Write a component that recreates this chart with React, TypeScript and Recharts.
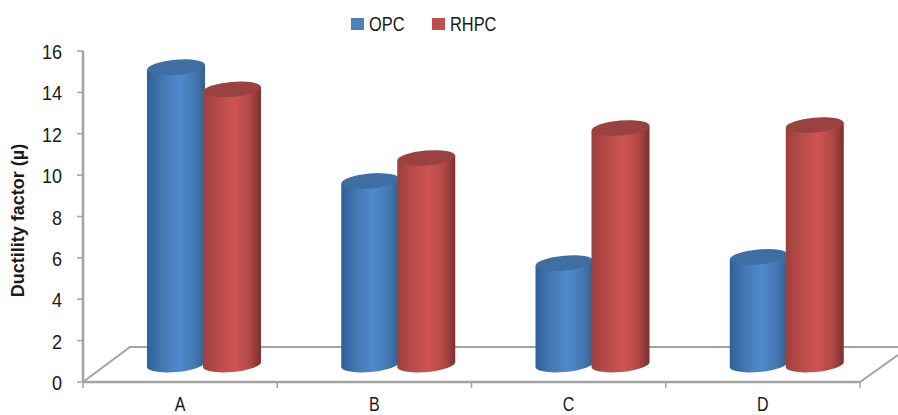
import { BarChart, Bar, XAxis, YAxis, Legend, Label, usePlotArea } from 'recharts'

const categories = ['A', 'B', 'C', 'D']
const opcValues = [14.37, 8.87, 4.9, 5.2]
const rhpcValues = [13.3, 9.98, 11.43, 11.57]
const yTicks = [0, 2, 4, 6, 8, 10, 12, 14, 16]

const data = categories.map((name, i) => ({
  name,
  OPC: opcValues[i],
  RHPC: rhpcValues[i],
}))

const AXIS = '#a3a3a3'
const TEXT = '#1a1a1a'
const FONT = '"Liberation Sans", sans-serif'

// the fake 3D offset of the bars from the front axis
const SHIFT_X = 24
const SHIFT_Y = 17.5

function Cylinder(props: any) {
  const { x, y, width, height, gradient, top } = props
  const rx = width / 2
  const ry = 7.5
  const dy = 2.5
  const left = x + SHIFT_X
  const right = left + width
  const yTop = y - SHIFT_Y
  const yBot = y + height - SHIFT_Y
  const body = `M${left},${yTop + dy} L${left},${yBot + dy} A${rx},${ry} -5 0 0 ${right},${yBot - dy} L${right},${yTop - dy} Z`
  return (
    <g>
      <path d={body} fill={`url(#${gradient})`} />
      <ellipse
        cx={left + rx}
        cy={yTop}
        rx={rx}
        ry={ry}
        fill={top}
        transform={`rotate(-5 ${left + rx} ${yTop})`}
      />
    </g>
  )
}

function Floor() {
  const plot = usePlotArea()
  if (!plot) return null
  const { x, y, width, height } = plot
  const bottom = y + height
  const right = x + width
  const band = width / categories.length
  const boundaries = [0, 1, 2, 3, 4].map((i) => x + i * band)
  return (
    <g stroke={AXIS} fill="none">
      <path strokeWidth={2} d={`M${x},${bottom} L${x + 47},${bottom - 35} L898,${bottom - 35}`} />
      <path strokeWidth={2} d={`M${right},${bottom} L898,${bottom - 27}`} />
      <path strokeWidth={2.5} d={`M${x},${bottom} L${right},${bottom}`} />
      {boundaries.map((b) => (
        <path key={b} strokeWidth={1.5} d={`M${b},${bottom} L${b},${bottom + 6}`} />
      ))}
    </g>
  )
}

function Gradients() {
  return (
    <defs>
      <linearGradient id="opcGrad" x1="0" y1="0" x2="1" y2="0">
        <stop offset="0%" stopColor="#2f5f96" />
        <stop offset="25%" stopColor="#4377b3" />
        <stop offset="55%" stopColor="#5089cf" />
        <stop offset="80%" stopColor="#4679b4" />
        <stop offset="100%" stopColor="#34618f" />
      </linearGradient>
      <linearGradient id="rhpcGrad" x1="0" y1="0" x2="1" y2="0">
        <stop offset="0%" stopColor="#9b403e" />
        <stop offset="25%" stopColor="#b84b48" />
        <stop offset="55%" stopColor="#ce5451" />
        <stop offset="80%" stopColor="#b24846" />
        <stop offset="100%" stopColor="#7d302e" />
      </linearGradient>
    </defs>
  )
}

// the reference text is a narrow face, so squeeze the regular one
function NarrowTick(props: any) {
  const { x, y, payload, anchor, squeeze, size, dy } = props
  return (
    <text
      transform={`translate(${x} ${y + dy}) scale(${squeeze} 1)`}
      textAnchor={anchor}
      fill={TEXT}
      fontFamily={FONT}
      fontSize={size}
    >
      {payload.value}
    </text>
  )
}

function LegendContent() {
  const items = [
    { name: 'OPC', color: '#4f81bd', width: 81 },
    { name: 'RHPC', color: '#c0504d', width: 80 },
  ]
  return (
    <div style={{ display: 'flex', paddingLeft: 351, height: 24, alignItems: 'center' }}>
      {items.map((it) => (
        <div key={it.name} style={{ display: 'flex', alignItems: 'center', width: it.width }}>
          <span style={{ width: 12.5, height: 12, background: it.color, marginRight: 5 }} />
          <span
            style={{
              fontFamily: FONT,
              fontSize: 21,
              color: TEXT,
              display: 'inline-block',
              transform: 'scaleX(0.78)',
              transformOrigin: 'left center',
            }}
          >
            {it.name}
          </span>
        </div>
      ))}
    </div>
  )
}

export default function App() {
  return (
    <div style={{ position: 'absolute', left: 0, top: 0, width: 898, height: 415 }}>
      <BarChart
        width={898}
        height={415}
        data={data}
        margin={{ top: 27, right: 38, bottom: 0, left: 0 }}
        barSize={58}
        barGap={-2}
      >
        <Gradients />
        <Legend verticalAlign="top" content={<LegendContent />} wrapperStyle={{ top: 12, left: 0, width: 898 }} />
        <Floor />
        <XAxis
          dataKey="name"
          height={33}
          axisLine={false}
          tickLine={false}
          tick={<NarrowTick anchor="middle" squeeze={0.8} size={20} dy={21} />}
        />
        <YAxis
          width={83}
          domain={[0, 16]}
          ticks={yTicks}
          interval={0}
          stroke={AXIS}
          axisLine={{ stroke: AXIS, strokeWidth: 2.5 }}
          tickLine={{ stroke: AXIS, strokeWidth: 1.5 }}
          tickSize={6}
          tick={<NarrowTick anchor="end" squeeze={0.86} size={21} dy={8} />}
          tickMargin={15}
        >
          <Label
            value="Ductility factor (µ)"
            angle={-90}
            position="insideLeft"
            offset={18}
            dy={4}
            style={{ fontFamily: FONT, fontWeight: 700, fontSize: 18, fill: TEXT, textAnchor: 'middle' }}
          />
        </YAxis>
        <Bar
          dataKey="OPC"
          isAnimationActive={false}
          shape={(p: any) => <Cylinder {...p} gradient="opcGrad" top="#3f6ea3" />}
        />
        <Bar
          dataKey="RHPC"
          isAnimationActive={false}
          shape={(p: any) => <Cylinder {...p} gradient="rhpcGrad" top="#9a4240" />}
        />
      </BarChart>
    </div>
  )
}
